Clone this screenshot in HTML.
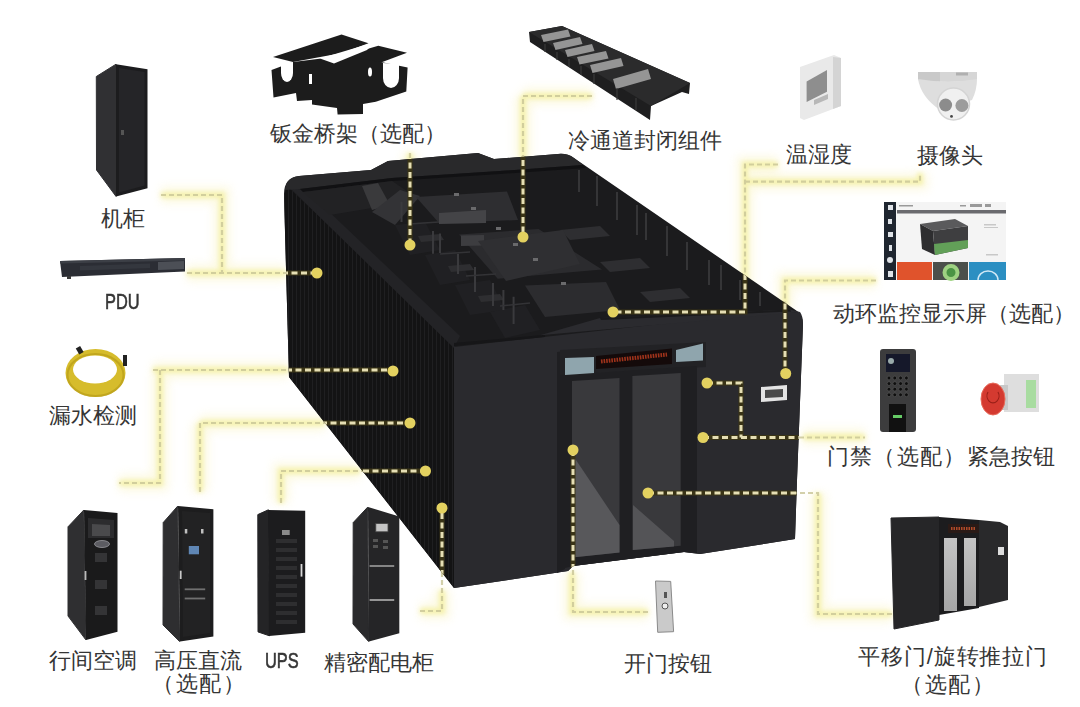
<!DOCTYPE html>
<html><head><meta charset="utf-8">
<style>
html,body{margin:0;padding:0;background:#fff;}
body{width:1080px;height:707px;position:relative;overflow:hidden;font-family:"Liberation Sans",sans-serif;}
svg{position:absolute;left:0;top:0;}
.t{position:absolute;font-size:22px;line-height:1;white-space:nowrap;color:#353535;}
</style></head><body>
<svg width="1080" height="707" viewBox="0 0 1080 707">
<defs>
  <filter id="glow" x="-20%" y="-20%" width="140%" height="140%"><feGaussianBlur stdDeviation="2"/></filter>
  <filter id="glow2" x="-30%" y="-30%" width="160%" height="160%"><feGaussianBlur stdDeviation="5"/></filter>
  <filter id="bl1"><feGaussianBlur stdDeviation="0.6"/></filter>
  <pattern id="ribs" width="4" height="10" patternUnits="userSpaceOnUse">
    <rect width="4" height="10" fill="#131314"/>
    <rect x="0" width="1" height="10" fill="#1f1f21"/>
  </pattern>
  <linearGradient id="glassg" x1="0" y1="0" x2="0" y2="1"><stop offset="0" stop-color="#c4c4c4"/><stop offset="1" stop-color="#a6a6a6"/></linearGradient>
  <linearGradient id="doorg" x1="0" y1="0" x2="0" y2="1">
    <stop offset="0" stop-color="#3a3a3d"/><stop offset="1" stop-color="#333336"/>
  </linearGradient>
</defs>

<g id="glowwide" stroke="#f7eea8" stroke-width="16" fill="none" filter="url(#glow2)" opacity="0.35">
  <path d="M161,195 H222 V273 M187,273 H286"/>
  <path d="M410,153 V175"/>
  <path d="M523,96 H592 M523,96 V160"/>
  <path d="M778,164.5 H745 V312 M745,181.7 H920 V173"/>
  <path d="M876,280.5 H785 V310"/>
  <path d="M153,370 H289 M160,370 V483 H119"/>
  <path d="M200,423 H325 M200,423 V492"/>
  <path d="M281,503 V471 H360"/>
  <path d="M420,611 H442 V590"/>
  <path d="M572,572 V612 H648"/>
  <path d="M818,493 V614 H892"/>
  <path d="M803,437 H865"/>
</g>
<g id="glowlines" stroke="#f3ef9c" stroke-width="6" fill="none" filter="url(#glow)" opacity="0.75">
  <path d="M161,195 H222 V273 M187,273 H286"/>
  <path d="M410,153 V175"/>
  <path d="M523,96 H592 M523,96 V160"/>
  <path d="M778,164.5 H745 V312 M745,181.7 H920 V173"/>
  <path d="M876,280.5 H785 V310"/>
  <path d="M153,370 H289 M160,370 V483 H119"/>
  <path d="M200,423 H325 M200,423 V492"/>
  <path d="M281,503 V471 H360"/>
  <path d="M420,611 H442 V590"/>
  <path d="M572,572 V612 H648"/>
  <path d="M818,493 V614 H892"/>
  <path d="M803,437 H865"/>
</g>
<!-- ===== MAIN CABINET ===== -->
<g id="cab">
  <!-- whole silhouette -->
  <path d="M284,194 Q284,178 299,176 L371,170 L388,161 L478,153 L494,159 L558,154 Q567,153 574,158 L797,311 Q803,316 803,324 L797,480 L795,539 L700,554 L684,552 L573,566 L568,571 L454,588 L289,377 Z" fill="#1b1b1d"/>
  <!-- side face -->
  <path d="M284,196 L287,186 L454,343 L454,588 L289,377 Z" fill="url(#ribs)"/>
  <!-- roof left edge band -->
  <path d="M290,188 L306,190 L460,336 L454,348 Z" fill="#232326"/>
  <!-- roof rim -->
  <path d="M285,190 Q286,177 299,176 L371,170 L388,161 L478,153 L494,159 L558,154 Q567,153 574,158 L583,165 L500,171 L392,178 L300,189 Z" fill="#29292b"/>
  <path d="M300,189 L392,178 L500,171 L583,165 L586,168 L500,174 L392,181 L303,192 Z" fill="#111113"/>
  <!-- left inner wall blocks -->
  <path d="M303,192 L392,181 L420,200 L330,215 Z" fill="#222224"/>
  <path d="M362,186 L378,183 L390,205 L372,210 Z" fill="#3a3a3c"/>
  <!-- staircase blocks -->
  <g fill="#202023">
    <path d="M372,212 L400,190 L420,196 L395,225 Z" fill="#333336"/>
    <path d="M395,225 L425,222 L440,250 L410,255 Z"/>
    <path d="M425,255 L455,250 L470,280 L440,285 Z"/>
    <path d="M455,285 L490,280 L505,310 L470,315 Z"/>
    <path d="M490,312 L525,305 L540,330 L505,338 Z"/>
  </g>
  <g fill="#2e2e31">
    <path d="M418,236 L440,234 L444,240 L421,242 Z"/>
    <path d="M448,266 L470,264 L474,270 L451,272 Z"/>
    <path d="M478,296 L500,294 L504,300 L481,302 Z"/>
    <path d="M560,230 L600,226 L610,236 L570,240 Z"/>
    <path d="M600,262 L640,258 L650,268 L610,272 Z"/>
    <path d="M640,292 L680,288 L690,298 L650,302 Z"/>
  </g>
  <!-- skylight panels -->
  <path d="M416,197 L507,191.5 L518,220 L439,223 Z" fill="#2e2e31"/>
  <path d="M439,213 L486,210 L486,223 L439,224 Z" fill="#444447"/>
  <path d="M459,234.5 L538.5,229 L602,269.6 L497.7,278.7 Z" fill="#2b2b2e"/>
  <path d="M461,235.6 L484,235 L484,245.5 L461,246 Z" fill="#3d3d40"/>
  <path d="M478,241 L563,230 L580,264 L506,281 Z" fill="#2f2f32"/>
  <path d="M525,285.5 L606,282 L620,310 L545,317 Z" fill="#2c2c2f"/>
  <g fill="#6a6a6c">
    <rect x="454" y="193" width="5" height="3"/><rect x="471" y="207" width="5" height="3"/>
    <rect x="496" y="227" width="5" height="3"/><rect x="513" y="243" width="5" height="3"/>
    <rect x="533" y="258" width="5" height="3"/><rect x="561" y="282" width="5" height="3"/>
  </g>
  <!-- stair highlights -->
  <g stroke="#3a3a3d" stroke-width="2">
    <path d="M401.5,201.7 V222 M433,231 V253.8 M440,233.4 V253 M458,253.8 V274 M475,267 V292 M493,283 V306 M503.4,290 V310 M513.6,296.8 V324"/>
  </g>
  <g stroke="#333336" stroke-width="1.5">
    <path d="M409,224 L439,222 M440,254 L470,252 M466,276 L496,274 M500,306 L530,303"/>
  </g>
  <!-- right fins -->
  <g stroke="#3c3c3f" stroke-width="1.6">
    <path d="M579,170 V192 M597,176 V206 M617,192 V220 M637,205 V235 M646,213 V240 M667,226 V256 M687,242 V270 M709,260 V285 M721,265 V290 M740,280 V300 M760,292 V306"/>
  </g>
  <!-- front face -->
  <path d="M454,347 L750,314 L800,312 Q803,316 803,324 L797,480 L795,539 L700,554 L684,552 L573,566 L568,571 L454,588 Z" fill="#2a2a2e"/>
  <path d="M454,343 L545,334.8 L545,337 L454,346 Z" fill="#161618"/>
  <path d="M540,335.3 L600,318 L790,309.5 L800,312 Z" fill="#2b2b2f"/>
  <path d="M600,318 L790,309.5 L791,311.5 L601,320 Z" fill="#1a1a1c"/>
  <!-- front-left panel seam -->
  <path d="M557,352 L565,351 L565,569 L557,573 Z" fill="#1f1f22"/>
  <!-- door header -->
  <path d="M560,350 L706,342 L706,367 L560,375 Z" fill="#222225"/>
  <path d="M565,358 L594,357 L594,375 L565,376 Z" fill="#8fa5ad"/>
  <path d="M676,350 L703,343.5 L703,360.5 L676,362 Z" fill="#8fa5ad"/>
  <path d="M596,356 L672,348.6 L672,364 L596,369 Z" fill="#140a0a"/>
  <path d="M601,361.5 L667,354.5" stroke="#b83a1e" stroke-width="4" stroke-dasharray="1.6 1" opacity="0.85"/>
  <!-- door frame + glass -->
  <path d="M565,375 L697,366 L697,553 L684,552 L573,566 L565,568 Z" fill="#1f1f22"/>
  <path d="M572,381 L619.5,378 L619.5,552.5 L572,557.5 Z" fill="#39393c"/>
  <path d="M632.4,376 L680.7,373 L680.7,545.8 L632.4,550 Z" fill="#39393c"/>
  <path d="M572,454 L619.5,525 L619.5,552.5 L572,557.5 Z" fill="#58585b"/>
  <path d="M633,505 L674,541 L674,546.4 L633,550 Z" fill="#545457"/>
  <!-- small screen on cabinet -->
  <path d="M761,387 L787,385 L787,400 L761,402 Z" fill="#e4e4e4"/>
  <path d="M765,390 L783,389 L783,397 L765,398 Z" fill="#4a4a4a"/>
</g>

<!-- ===== PRODUCTS ===== -->
<!-- rack -->
<path d="M96.3,76.5 L116,64.2 L116,196.4 L96.5,170 Z" fill="#303033" stroke="#303033" stroke-width="1"/>
<path d="M116,64.2 L147.5,69.3 L147.5,188.2 L116,196.4 Z" fill="#1c1c1e"/>
<path d="M119,68 L144.5,72 L144.5,185.5 L119,192.5 Z" fill="#252528"/>
<rect x="121" y="130" width="3" height="5" fill="#555"/>
<!-- cable tray -->
<g fill="#1c1c1c">
  <path d="M273,57 L341.5,34.5 L368.5,43.3 L342,53 L293,62 Z"/>
  <path d="M341.5,56.6 L378.3,45.8 L407,52.8 L381,62.4 L345,62 Z"/>
  <path d="M271.5,70 L293,62 L342,56 L381,62 L407.6,67.4 L406.3,91.6 L375.8,101.8 L363,104 L363,114 L337.6,114.5 L337,108 L312,104.5 L312,100 L297,101 L296,93 L273.5,97.4 Z"/>
</g>
<g fill="#fff">
  <path d="M281,63 L281,73 A6,9 0 0 0 293,73 L293,62 Z"/>
  <path d="M383,63 L383,78 A8,10 0 0 0 399,78 L399,64 Z"/>
  <path d="M320,58.5 L368.5,44 L371,46 L367,50 L334,63.5 Z"/>
  <ellipse cx="370" cy="72" rx="2" ry="4.5"/>
  <path d="M309,74 L312,74 L312,84 L309,84 Z"/>
</g>
<!-- cold aisle part -->
<path d="M529,32 L562,26 L690,83 L689,94 L682,92 L651,106 L650,120 L530,42 Z" fill="#1e1e1f"/>
<path d="M529,32 L562,26 L690,83 L651,106 Z" fill="#2b2b2c"/>
<g fill="#959595">
  <path d="M541,35 L568,29.5 L570.5,36.5 L543.5,42 Z"/>
  <path d="M553,43 L580,37 L582.5,44 L555.5,50 Z"/>
  <path d="M565,50 L592,44 L594.5,51 L567.5,57 Z"/>
  <path d="M577,57 L606,51 L608.5,58.5 L579.5,64.5 Z"/>
  <path d="M590,65 L621,58 L623.5,66 L592.5,73 Z"/>
  <path d="M613,79 L648,69 L651,79 L616,89 Z"/>
</g>
<g stroke="#3a3a3a" stroke-width="1.2">
  <path d="M545,44 V52 M557,52 V60 M569,59 V67 M581,66 V75 M594,74 V84 M617,88 V100 M636,98 V110"/>
</g>
<!-- temp/humidity sensor -->
<path d="M800,67 L834,55 L841,58 L841,106 L804,120 L800,118 Z" fill="#e9e9e9"/>
<path d="M833,57 L841,58 L841,106 L833,109 Z" fill="#d4d4d4"/>
<path d="M806.6,81.5 L827,70 L827,91.7 L806.6,101.9 Z" fill="#8e8e8e"/>
<path d="M814,100 L828,94 L828,99 L814,105 Z" fill="#b8b8b8"/>
<!-- camera -->
<path d="M918,72 L977,72 L977,80 Q948,84 918,80 Z" fill="#d6d6d6"/>
<path d="M918,72 L940,72 L940,82 Q928,82 918,80 Z" fill="#c9c9c9"/>
<path d="M918,79 Q921,97 940,110 L972,100 Q977,90 977,79 Q948,84 918,79 Z" fill="#dedede"/>
<circle cx="953.5" cy="104" r="16" fill="#f0f0f0" stroke="#d4d4d4" stroke-width="1.5"/>
<circle cx="945.6" cy="105" r="6.5" fill="#8c8c8c"/>
<circle cx="961.9" cy="105.5" r="6.5" fill="#9c9c9c"/>
<circle cx="951.5" cy="116.4" r="1.4" fill="#444"/>
<rect x="956" y="72.5" width="12" height="3" fill="#b0b0b0"/>
<!-- PDU -->
<path d="M60,261 L185,258 L185,271.5 L62,277 Z" fill="#2b2d34"/>
<path d="M60,261 L185,258 L185,260.5 L60,263.5 Z" fill="#3c3f46"/>
<path d="M80,266 L150,263.5 L150,268 L80,270.5 Z" fill="#34373e"/>
<path d="M158,262 L184,261 L184,269 L158,270 Z" fill="#4c4f56"/>
<rect x="67" y="276" width="4" height="3" fill="#3a3a3a"/>
<!-- monitor -->
<rect x="884" y="202" width="122" height="78" fill="#f4f4f4"/>
<rect x="884" y="202" width="12" height="78" fill="#1f2630"/>
<g fill="#dfe3e8"><rect x="888" y="205" width="5" height="5"/><rect x="888" y="219" width="4" height="5"/><rect x="888" y="232" width="5" height="5"/><rect x="889" y="245" width="3" height="6"/><circle cx="890" cy="260" r="3"/><rect x="888" y="271" width="5" height="6"/></g>
<rect x="897" y="210" width="109" height="3.5" fill="#6a6a6e"/>
<g fill="#9a9a9a"><rect x="899" y="205" width="14" height="1.5"/><rect x="960" y="205" width="6" height="1.5"/><rect x="970" y="204" width="12" height="3"/><rect x="985" y="204" width="6" height="3"/></g>
<path d="M920,224 L955,219 L968,226 L933,231 Z" fill="#5a5a5c"/>
<path d="M920,224 L933,231 L935,255 L922,249 Z" fill="#2e2e30"/>
<path d="M933,231 L968,226 L968,248 L935,255 Z" fill="#3e3e40"/>
<path d="M934,244 L968,240 L968,248 L935,255 Z" fill="#62a058"/>
<g fill="#c8c8c8"><rect x="984" y="224" width="12" height="1.5"/><rect x="984" y="227" width="14" height="1"/><rect x="986" y="254" width="12" height="1.5"/></g>
<rect x="897" y="262" width="35" height="18" fill="#e0532c"/>
<rect x="933" y="262" width="35" height="18" fill="#4b504b"/>
<circle cx="951" cy="272.5" r="6.5" fill="#4a9444" stroke="#9ed282" stroke-width="4"/>
<rect x="969" y="262" width="37" height="18" fill="#2b8fc2"/>
<path d="M978,280 A10,9 0 0 1 998,280" fill="none" stroke="#cfe8f5" stroke-width="1.5"/>
<!-- access control -->
<rect x="880" y="349" width="36" height="83" rx="3" fill="#3c3c3d"/>
<rect x="886" y="354" width="24" height="18" fill="#15182a"/>
<circle cx="891" cy="361" r="3" fill="#9aa"/>
<g fill="#0e0e0e" stroke="#5a5a5a" stroke-width="0.6"><circle cx="889.0" cy="378.0" r="1.9"/><circle cx="894.8" cy="378.0" r="1.9"/><circle cx="900.6" cy="378.0" r="1.9"/><circle cx="906.4" cy="378.0" r="1.9"/><circle cx="889.0" cy="383.6" r="1.9"/><circle cx="894.8" cy="383.6" r="1.9"/><circle cx="900.6" cy="383.6" r="1.9"/><circle cx="906.4" cy="383.6" r="1.9"/><circle cx="889.0" cy="389.2" r="1.9"/><circle cx="894.8" cy="389.2" r="1.9"/><circle cx="900.6" cy="389.2" r="1.9"/><circle cx="906.4" cy="389.2" r="1.9"/><circle cx="889.0" cy="394.8" r="1.9"/><circle cx="894.8" cy="394.8" r="1.9"/><circle cx="900.6" cy="394.8" r="1.9"/><circle cx="906.4" cy="394.8" r="1.9"/></g>
<rect x="889" y="404" width="17" height="28" fill="#111"/>
<rect x="893" y="415" width="9" height="3" fill="#6c6"/>
<!-- emergency button -->
<rect x="1004" y="374" width="35" height="38" fill="#dedede"/>
<rect x="1026" y="380" width="10" height="28" fill="#a8dca0"/>
<rect x="1000" y="385" width="8" height="25" fill="#c8c8c8"/>
<ellipse cx="993" cy="399" rx="12" ry="16" fill="#d43a30" stroke="#e86a5a" stroke-width="1"/><path d="M988,392 A6,7 0 1 0 998,392" fill="none" stroke="#9a2018" stroke-width="1.2"/>
<!-- leak cable -->
<ellipse cx="95.5" cy="373" rx="30" ry="24" fill="#d6bc2c"/>
<ellipse cx="95.5" cy="375" rx="28" ry="21" fill="none" stroke="#b89c18" stroke-width="2" opacity="0.7"/>
<ellipse cx="95" cy="369.5" rx="22" ry="14" fill="#fff"/>
<rect x="77" y="347" width="5" height="7" fill="#222" transform="rotate(-30 79 350)"/>
<rect x="123" y="355" width="4" height="11" fill="#222"/>
<!-- AC -->
<path d="M68,526.8 L83.8,510 L85.8,639.8 L68,616 Z" fill="#2f2f31" stroke="#2f2f31" stroke-width="1"/>
<path d="M84,510 L117.5,513 L117.5,631.8 L86,640 Z" fill="#1a1a1b"/>
<path d="M88,518 L114,520 L114,538 L88,538 Z" fill="#2c2c2e"/>
<path d="M92,524 L110,525 L110,536 L92,536 Z" fill="#4a4a4c"/>
<ellipse cx="102" cy="544" rx="7.5" ry="3.5" fill="#5c5c62" stroke="#9a9aa0" stroke-width="0.8"/>
<rect x="95" y="553" width="12" height="9" fill="#343436"/>
<rect x="95" y="580" width="12" height="9" fill="#343436"/>
<rect x="95" y="606" width="12" height="9" fill="#343436"/>
<rect x="84.6" y="571" width="1.8" height="9" fill="#bbb"/>
<!-- HVDC -->
<path d="M163.2,522.6 L177.6,506.2 L179.6,641.5 L163,625 Z" fill="#2e2e30" stroke="#2e2e30" stroke-width="1"/>
<path d="M178,506 L213.4,509.2 L213.4,636.4 L180,641.5 Z" fill="#1d1d1e"/>
<path d="M182,511 L210,513 L210,633 L183,637 Z" fill="#222223"/>
<rect x="188.8" y="546" width="10.2" height="8.3" fill="#5f86b4"/>
<rect x="184.8" y="529" width="2.5" height="4.5" fill="#c0c0c0"/><rect x="201" y="529" width="2.5" height="4.5" fill="#c0c0c0"/>
<rect x="184.7" y="588.4" width="20.5" height="1.8" fill="#707070"/><rect x="184.7" y="597.6" width="20.5" height="1.8" fill="#707070"/>
<rect x="179.8" y="570.7" width="1.8" height="8.3" fill="#c8c8c8"/>
<!-- UPS -->
<path d="M257.8,514.6 L268.4,509.8 L269.4,635.8 L258,631.9 Z" fill="#242426" stroke="#242426" stroke-width="1"/>
<path d="M268,510 L305.2,510.8 L305.2,632.8 L269,636 Z" fill="#1c1c1e"/>
<g fill="#2e2e30">
  <rect x="276" y="539" width="21" height="4"/><rect x="276" y="548" width="21" height="4"/><rect x="276" y="557" width="21" height="4"/>
  <rect x="276" y="566" width="21" height="4"/><rect x="276" y="575" width="21" height="4"/><rect x="276" y="584" width="21" height="4"/>
  <rect x="276" y="593" width="21" height="4"/><rect x="276" y="602" width="21" height="4"/><rect x="276" y="611" width="21" height="4"/>
  <rect x="276" y="620" width="21" height="4"/>
</g>
<rect x="282" y="530" width="7.7" height="5" fill="#8a8a8a"/>
<rect x="300.6" y="564" width="1.8" height="12.6" fill="#d8d8d8"/>
<!-- PDC -->
<path d="M353.2,522.6 L367.6,507.2 L368.6,641.5 L353,624 Z" fill="#2a2a2c" stroke="#2a2a2c" stroke-width="1"/>
<path d="M368,507 L399.3,516.4 L399.3,633.3 L369,641.5 Z" fill="#252527"/>
<rect x="375.8" y="523.6" width="12.2" height="8.2" fill="#c4c4c4" stroke="#444" stroke-width="0.8"/>
<g fill="#555"><rect x="373" y="539" width="5" height="3"/><rect x="383" y="540" width="5" height="3"/><rect x="373" y="545" width="5" height="3"/><rect x="383" y="546" width="5" height="3"/></g>
<rect x="369.6" y="565" width="24.6" height="2" fill="#858585"/>
<rect x="369.6" y="599" width="24.6" height="2" fill="#959595"/>
<!-- exit button -->
<path d="M655.5,581 L670.7,581.4 L673.6,631.7 L657.7,632.3 Z" fill="#cacaca" stroke="#8a8a8a" stroke-width="1"/>
<circle cx="665" cy="606" r="3" fill="#eee" stroke="#555" stroke-width="1"/>
<rect x="664" y="592" width="3" height="6" fill="#555"/>
<!-- sliding door -->
<path d="M891,518 L939,517 L939,620 L894,629 Z" fill="#262628" stroke="#262628" stroke-width="1"/>
<path d="M939,517 L979,520 L979,608 L939,615 Z" fill="#1c1c1e"/>
<path d="M979,520 L1000,522 L1008,526 L1008,600 L979,607 Z" fill="#29292b"/>
<rect x="944" y="538" width="13" height="73" fill="url(#glassg)"/>
<rect x="964" y="538" width="12" height="68" fill="url(#glassg)"/>
<rect x="948" y="524" width="31" height="9" fill="#2a1a16"/><path d="M951,528.5 H976" stroke="#b04a28" stroke-width="3" stroke-dasharray="1.5 1"/>
<rect x="998" y="547" width="6" height="8" fill="#ddd"/>

<!-- ===== CONNECTOR LINES ===== -->

<defs>
<g id="lp">
  <path d="M161,195 H222 V273"/>
  <path d="M187,273 H317"/>
  <path d="M410,153 V245"/>
  <path d="M592,96 H523 V237"/>
  <path d="M778,164.5 H745 V312 H613"/>
  <path d="M745,181.7 H920 V173"/>
  <path d="M876,280.5 H785 V373"/>
  <path d="M153,370 H393"/>
  <path d="M160,370 V483 H119"/>
  <path d="M200,492 V423 H410"/>
  <path d="M281,503 V471 H426"/>
  <path d="M420,611 H442 V508"/>
  <path d="M573,450 V612 H648"/>
  <path d="M648,493 H818 V614 H892"/>
  <path d="M707,383 H741 V437.5"/>
  <path d="M703,437.5 H865"/>
</g>
<clipPath id="cabclip"><path d="M284,194 Q284,178 299,176 L371,170 L388,161 L478,153 L494,159 L558,154 Q567,153 574,158 L797,311 Q803,316 803,324 L797,480 L795,539 L700,554 L684,552 L573,566 L568,571 L454,588 L289,377 Z"/></clipPath>
</defs>
<use href="#lp" stroke="#c9c596" stroke-width="2.2" fill="none" stroke-dasharray="5 3" opacity="0.8"/>
<g clip-path="url(#cabclip)"><use href="#lp" stroke="#3a3416" stroke-width="5" fill="none"/>
<use href="#lp" stroke="#e6dfb4" stroke-width="3" fill="none" stroke-dasharray="6 3.5"/></g>
<g fill="#e3d160">
  <circle cx="317" cy="273" r="5.5"/>
  <circle cx="410" cy="245" r="5.5"/>
  <circle cx="523" cy="237" r="5.5"/>
  <circle cx="613" cy="312" r="5.5"/>
  <circle cx="785.7" cy="373.5" r="5.5"/>
  <circle cx="393" cy="371" r="5.5"/>
  <circle cx="410" cy="423" r="5.5"/>
  <circle cx="425.5" cy="471" r="5.5"/>
  <circle cx="442" cy="508" r="5.5"/>
  <circle cx="573" cy="450" r="5.5"/>
  <circle cx="648" cy="493" r="5.5"/>
  <circle cx="707" cy="383" r="5.5"/>
  <circle cx="703" cy="437.5" r="5.5"/>
</g>
</svg>

<div class="t" id="l1" style="left:270.0px;top:122.6px">钣金桥架（选配）</div>
<div class="t" id="l2" style="left:567.5px;top:129.8px">冷通道封闭组件</div>
<div class="t" id="l3" style="left:785.6px;top:143.8px">温湿度</div>
<div class="t" id="l4" style="left:916.5px;top:145.3px">摄像头</div>
<div class="t" id="l5" style="left:101.0px;top:208.0px">机柜</div>
<div class="t" id="l6" style="left:104.5px;top:291px;transform:scaleX(0.745);transform-origin:0 0;-webkit-text-stroke:0.6px #353535">PDU</div>
<div class="t" id="l7" style="left:833.2px;top:303.2px">动环监控显示屏（选配）</div>
<div class="t" id="l8" style="left:48.9px;top:405.0px">漏水检测</div>
<div class="t" id="l9" style="left:827.3px;top:445.8px;letter-spacing:1.1px">门禁（选配）</div>
<div class="t" id="l10" style="left:966.9px;top:446.0px">紧急按钮</div>
<div class="t" id="l11" style="left:48.7px;top:650.2px">行间空调</div>
<div class="t" id="l12" style="left:154.3px;top:650.0px">高压直流</div>
<div class="t" id="l13" style="left:152px;top:672.6px;letter-spacing:1.5px">（选配）</div>
<div class="t" id="l14" style="left:264.8px;top:650px;transform:scaleX(0.745);transform-origin:0 0;-webkit-text-stroke:0.6px #353535">UPS</div>
<div class="t" id="l15" style="left:324.0px;top:651.5px">精密配电柜</div>
<div class="t" id="l16" style="left:624.0px;top:652.8px">开门按钮</div>
<div class="t" id="l17" style="left:858.4px;top:645.9px;letter-spacing:0.8px">平移门/旋转推拉门</div>
<div class="t" id="l18" style="left:901px;top:673.8px;letter-spacing:1.7px">（选配）</div>
</body></html>
